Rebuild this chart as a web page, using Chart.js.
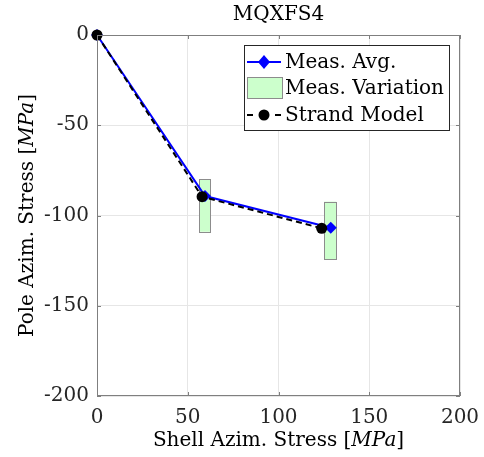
<!DOCTYPE html>
<html><head><meta charset="utf-8">
<script src="https://cdn.jsdelivr.net/npm/chart.js@4"></script>
<style>html,body{margin:0;padding:0;background:#fff}#wrap{width:484px;height:457px}</style>
</head><body><div id="wrap"><canvas id="c" width="484" height="457"></canvas></div>
<script>
const title = "MQXFS4";
const seriesNames = ["Meas. Avg.", "Meas. Variation", "Strand Model"];
const measX = [0, 59.5, 128.8];
const measY = [0, -89.2, -106.8];
const modelX = [0, 57.9, 123.8];
const modelY = [0, -89.6, -107.1];
const varXmin = [56.2, 125.1];
const varXmax = [62.3, 131.8];
const varYmin = [-109.0, -124.1];
const varYmax = [-79.9, -92.3];
const xTicks = [0, 50, 100, 150, 200];
const yTicks = [-200, -150, -100, -50, 0];

const FONT = "'DejaVu Serif', serif";
const FS = 20;

const rectPlugin = {
  id: 'rects',
  beforeDatasetsDraw(chart) {
    const {ctx, scales:{x, y}} = chart;
    ctx.save();
    for (let i = 0; i < varXmin.length; i++) {
      const x1 = x.getPixelForValue(varXmin[i]), x2 = x.getPixelForValue(varXmax[i]);
      const y1 = y.getPixelForValue(varYmax[i]), y2 = y.getPixelForValue(varYmin[i]);
      ctx.fillStyle = '#ccffcc';
      ctx.fillRect(x1, y1, x2 - x1, y2 - y1);
      ctx.strokeStyle = '#8c8c8c';
      ctx.lineWidth = 1;
      ctx.strokeRect(Math.round(x1)+0.5, Math.round(y1)+0.5, Math.round(x2-x1), Math.round(y2-y1));
    }
    ctx.restore();
  }
};

function drawMixed(ctx, parts, cx, cy) {
  let w = 0;
  parts.forEach(p => { ctx.font = p[1] + " " + FS + "px " + FONT; w += ctx.measureText(p[0]).width; });
  let xx = cx - w / 2;
  parts.forEach(p => { ctx.font = p[1] + " " + FS + "px " + FONT; ctx.fillText(p[0], xx, cy); xx += ctx.measureText(p[0]).width; });
}

const decoPlugin = {
  id: 'deco',
  afterDraw(chart) {
    const {ctx, chartArea:a} = chart;
    ctx.save();
    ctx.strokeStyle = '#7f7f7f'; ctx.lineWidth = 1;
    ctx.strokeRect(Math.round(a.left)+0.5, Math.round(a.top)+0.5, Math.round(a.right-a.left)-1, Math.round(a.bottom-a.top)-1);
    const {x, y} = chart.scales;
    ctx.beginPath();
    xTicks.forEach(v => { const px = Math.round(x.getPixelForValue(v))+0.5; ctx.moveTo(px, a.bottom); ctx.lineTo(px, a.bottom-4); ctx.moveTo(px, a.top); ctx.lineTo(px, a.top+4); });
    yTicks.forEach(v => { const py = Math.round(y.getPixelForValue(v))+0.5; ctx.moveTo(a.left, py); ctx.lineTo(a.left+4, py); ctx.moveTo(a.right, py); ctx.lineTo(a.right-4, py); });
    ctx.stroke();
    ctx.fillStyle = '#000'; ctx.textBaseline = 'middle'; ctx.textAlign = 'left';
    drawMixed(ctx, [[title, 'normal']], (a.left + a.right) / 2, 15);
    drawMixed(ctx, [["Shell Azim. Stress [", 'normal'], ["MPa", 'italic'], ["]", 'normal']], (a.left + a.right) / 2, 441);
    ctx.save();
    ctx.translate(28, (a.top + a.bottom) / 2);
    ctx.rotate(-Math.PI / 2);
    drawMixed(ctx, [["Pole Azim. Stress [", 'normal'], ["MPa", 'italic'], ["]", 'normal']], 0, 0);
    ctx.restore();
    // legend
    const L = 244, T = 45, W = 205, H = 85;
    ctx.fillStyle = '#fff'; ctx.fillRect(L, T, W, H);
    ctx.strokeStyle = '#262626'; ctx.lineWidth = 1; ctx.strokeRect(L+0.5, T+0.5, W, H);
    const rows = [62, 88, 115];
    ctx.strokeStyle = '#0000ff'; ctx.lineWidth = 2;
    ctx.beginPath(); ctx.moveTo(247, rows[0]); ctx.lineTo(281, rows[0]); ctx.stroke();
    ctx.fillStyle = '#0000ff'; ctx.beginPath();
    ctx.moveTo(264, rows[0]-7); ctx.lineTo(270, rows[0]); ctx.lineTo(264, rows[0]+7); ctx.lineTo(258, rows[0]); ctx.closePath(); ctx.fill();
    ctx.fillStyle = '#ccffcc'; ctx.fillRect(247, 77, 35, 21);
    ctx.strokeStyle = '#8c8c8c'; ctx.lineWidth = 1; ctx.strokeRect(247.5, 77.5, 35, 21);
    ctx.strokeStyle = '#000'; ctx.lineWidth = 2;
    ctx.beginPath(); ctx.moveTo(247, rows[2]); ctx.lineTo(253, rows[2]); ctx.moveTo(275, rows[2]); ctx.lineTo(281, rows[2]); ctx.stroke();
    ctx.fillStyle = '#000'; ctx.beginPath(); ctx.arc(264, rows[2], 5.5, 0, Math.PI*2); ctx.fill();
    ctx.font = FS + "px " + FONT; ctx.textAlign = 'left'; ctx.fillStyle = '#000';
    seriesNames.forEach((n, i) => ctx.fillText(n, 285, rows[i] + 1));
    ctx.restore();
  }
};

new Chart(document.getElementById('c'), {
  type: 'scatter',
  data: {
    datasets: [
      { label: seriesNames[0], data: measX.map((v,i)=>({x:v, y:measY[i]})), showLine: true,
        borderColor: '#0000ff', backgroundColor: '#0000ff', borderWidth: 2,
        pointStyle: 'rectRot', pointRadius: 6, pointBorderWidth: 0, clip: false, order: 2 },
      { label: seriesNames[2], data: modelX.map((v,i)=>({x:v, y:modelY[i]})), showLine: true,
        borderColor: '#000', backgroundColor: '#000', borderWidth: 2, borderDash: [6, 4],
        pointStyle: 'circle', pointRadius: 5.5, pointBorderWidth: 0, clip: false, order: 1 }
    ]
  },
  options: {
    responsive: false, animation: false, devicePixelRatio: 1,
    layout: { padding: { left: 0, right: 24, top: 35, bottom: 0 } },
    plugins: { legend: { display: false }, tooltip: { enabled: false } },
    scales: {
      x: { type: 'linear', min: 0, max: 200,
        afterFit(s) { s.height = 61; s.paddingLeft = 0; s.paddingRight = 0; },
        afterBuildTicks(s) { s.ticks = xTicks.map(v => ({value: v})); },
        grid: { color: '#e6e6e6', drawTicks: false },
        border: { display: false },
        ticks: { color: '#262626', font: { family: FONT, size: FS }, padding: 10, maxRotation: 0 } },
      y: { type: 'linear', min: -200, max: 0,
        afterFit(s) { s.width = 97; s.paddingTop = 0; s.paddingBottom = 0; },
        afterBuildTicks(s) { s.ticks = yTicks.map(v => ({value: v})); },
        grid: { color: '#e6e6e6', drawTicks: false },
        border: { display: false },
        ticks: { color: '#262626', font: { family: FONT, size: FS }, padding: 8 } }
    }
  },
  plugins: [rectPlugin, decoPlugin]
});
</script></body></html>
